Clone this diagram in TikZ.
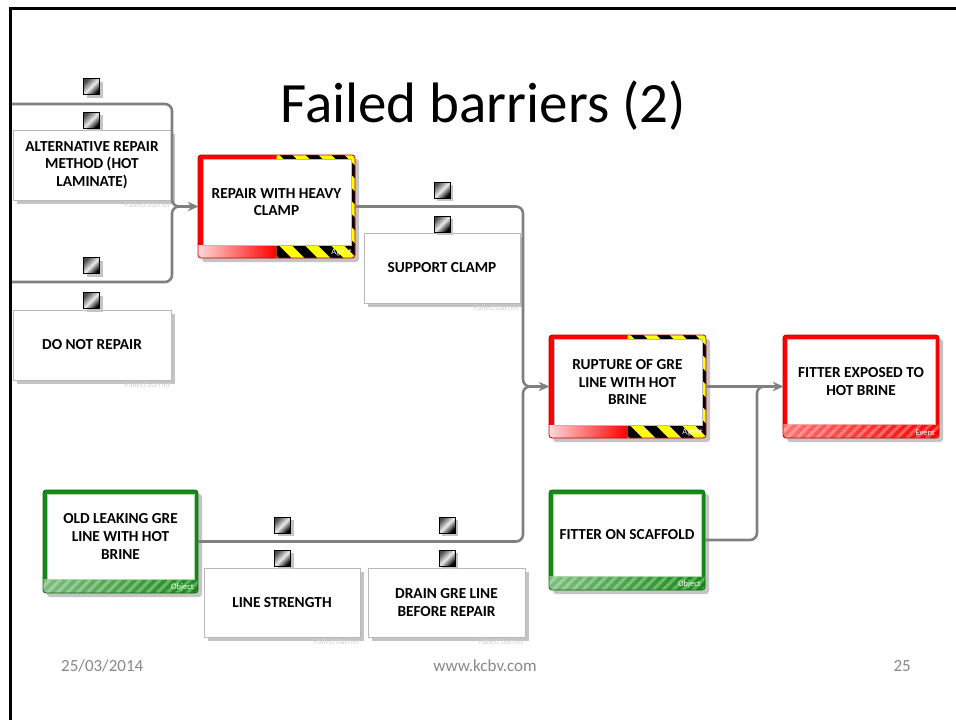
\documentclass[tikz,border=0pt]{standalone}
\usepackage{fontspec}
\setmainfont{Carlito}
\usetikzlibrary{arrows.meta,calc,shadows}
\definecolor{conn}{RGB}{128,128,128}
\definecolor{shad}{RGB}{196,196,196}
\definecolor{bbord}{RGB}{185,185,185}
\definecolor{hred}{RGB}{255,0,0}
\definecolor{dred}{RGB}{190,0,0}
\definecolor{hgreen}{RGB}{22,138,22}
\definecolor{dgreen}{RGB}{8,105,8}
\definecolor{hyel}{RGB}{255,255,0}
\definecolor{foot}{RGB}{137,137,137}
\definecolor{fbtext}{RGB}{212,212,212}
\tikzset{
  connector/.style={draw=conn, line width=2.6, rounded corners=7},
  arrowed/.style={-{Stealth[length=10,width=9,inset=3.5]}},
  boxtext/.style={font=\fontsize{15.3}{17.8}\selectfont\bfseries, align=center, inner sep=0, text=black},
  boxshape/.style={inner sep=0, outer sep=0, draw=none},
  tinylabel/.style={font=\fontsize{8.5}{9}\selectfont, inner sep=0},
  barsq/.style={minimum size=16, inner sep=0, draw=black, line width=0.8,
     top color=black!70, bottom color=black, middle color=white!92!black, shading angle=45,
     drop shadow={shadow xshift=3pt, shadow yshift=-3pt, fill=shad, opacity=1}},
  foottext/.style={font=\fontsize{17}{20}\selectfont, text=foot, inner sep=0},
}
% barrier box: name, x1, y1, x2, y2, text
\newcommand\barrierbox[6]{%
  \fill[shad] (#2+4,#3+4) rectangle (#4+4,#5+4);
  \draw[bbord, fill=white, line width=0.8] (#2,#3) rectangle (#4,#5);
  \node[boxshape, minimum width={(#4-#2)*1pt}, minimum height={(#5-#3)*1pt}] (#1) at ({(#2+#4)/2},{(#3+#5)/2}) {};
  \node[boxtext] (#1-t) at ({(#2+#4)/2},{(#3+#5)/2}) {#6};
  \node[tinylabel, text=fbtext, anchor=north east] (#1-l) at (#4,#5+1) {Failed barrier};
}
% agent box
\newcommand\agentbox[6]{%
  \fill[shad, rounded corners=3] (#2+4,#3+4) rectangle (#4+4,#5+4);
  \begin{scope}
    \clip[rounded corners=3] (#2,#3) rectangle (#4,#5);
    \fill[hred] (#2,#3) rectangle (#4,#5);
    \shade[left color=hred!15, right color=hred] (#2,#5-13) rectangle ({(#2+#4)/2},#5);
    \begin{scope}
      \clip ({(#2+#4)/2},#3) rectangle (#4,#3+4)
            (#4-4,#3) rectangle (#4,#5)
            ({(#2+#4)/2},#5-13) rectangle (#4,#5);
      \fill[hyel] (#2,#3) rectangle (#4,#5);
      \foreach \k in {0,26,...,312}
        \draw[black, line width=9] (#2-130+\k,#3-10) -- ++(140,140);
    \end{scope}
  \end{scope}
  \draw[dred, rounded corners=3, line width=0.8] (#2,#3) rectangle (#4,#5);
  \draw[bbord, fill=white, line width=0.6] (#2+5,#3+4) rectangle (#4-4,#5-13);
  \node[boxshape, minimum width={(#4-#2)*1pt}, minimum height={(#5-#3)*1pt}] (#1) at ({(#2+#4)/2},{(#3+#5)/2}) {};
  \node[boxtext] (#1-t) at ({(#2+#4)/2},{(#3+#5-9)/2}) {#6};
  \node[tinylabel, text=white, anchor=south east] (#1-l) at (#4-3,#5-2) {Agent};
}
% striped box: name, x1, y1, x2, y2, text, main colour, dark colour, label
\newcommand\stripebox[9]{%
  \fill[shad, rounded corners=3] (#2+4,#3+4) rectangle (#4+4,#5+4);
  \begin{scope}
    \clip[rounded corners=3] (#2,#3) rectangle (#4,#5);
    \fill[#7] (#2,#3) rectangle (#4,#5);
    \begin{scope}
      \clip (#2,#5-14) rectangle (#4,#5);
      \shade[left color=#7!55, right color=#7] (#2,#5-14) rectangle (#4,#5);
      \foreach \k in {0,10,...,190}
        \draw[white, opacity=0.3, line width=3] (#2+\k,#5-16) -- ++(-18,18);
    \end{scope}
  \end{scope}
  \draw[#8, rounded corners=3, line width=0.8] (#2,#3) rectangle (#4,#5);
  \draw[#7!35, fill=white, line width=0.8] (#2+4,#3+4) rectangle (#4-4,#5-14);
  \node[boxshape, minimum width={(#4-#2)*1pt}, minimum height={(#5-#3)*1pt}] (#1) at ({(#2+#4)/2},{(#3+#5)/2}) {};
  \node[boxtext] (#1-t) at ({(#2+#4)/2},{(#3+#5-10)/2}) {#6};
  \node[tinylabel, text=white, anchor=south east] (#1-l) at (#4-4,#5-2) {#9};
}
\begin{document}
\begin{tikzpicture}[x=1pt,y=-1pt]
\useasboundingbox (0,0) rectangle (956,720);
\fill[white] (0,0) rectangle (956,720);

\node[font=\fontsize{57}{62}\selectfont, anchor=base, inner sep=0] (title) at (483,122) {Failed barriers (2)};

% barriers
\barrierbox{alt}{13}{130}{171}{200}{ALTERNATIVE REPAIR\\METHOD (HOT\\LAMINATE)}
\barrierbox{donot}{13}{310}{171}{380}{DO NOT REPAIR}
\barrierbox{support}{364}{233}{520}{303}{SUPPORT CLAMP}
\barrierbox{linestr}{204}{568}{360}{637}{LINE STRENGTH}
\barrierbox{drain}{368}{568}{525}{637}{DRAIN GRE LINE\\BEFORE REPAIR}

% agents
\agentbox{repair}{198}{155}{355}{258}{REPAIR WITH HEAVY\\CLAMP}
\agentbox{rupture}{549}{335}{706}{438}{RUPTURE OF GRE\\LINE WITH HOT\\BRINE}

% event and objects
\stripebox{fitexp}{783}{335}{939}{438}{FITTER EXPOSED TO\\HOT BRINE}{hred}{dred}{Event}
\stripebox{oldleak}{43}{490}{198}{593}{OLD LEAKING GRE\\LINE WITH HOT\\BRINE}{hgreen}{dgreen}{Object}
\stripebox{fitscaf}{549}{490}{705}{590}{FITTER ON SCAFFOLD}{hgreen}{dgreen}{Object}

% barrier squares
\node[barsq] (sq1) at (91.5,86.5) {};
\node[barsq] (sq2) at (91.5,120) {};
\node[barsq] (sq3) at (91.5,265.5) {};
\node[barsq] (sq4) at (91.5,300.5) {};
\node[barsq] (sq5) at (442,190) {};
\node[barsq] (sq6) at (442,224) {};
\node[barsq] (sq7) at (282.5,525) {};
\node[barsq] (sq8) at (282.5,558) {};
\node[barsq] (sq9) at (447,525) {};
\node[barsq] (sq10) at (447,558) {};

% connectors
\coordinate (in1) at (10,104);
\coordinate (in2) at (10,282);
\coordinate (j1) at ($(repair.west)+(-26,0)$);
\coordinate (j2) at ($(rupture.west)+(-26,0)$);
\coordinate (j3) at ($(fitexp.west)+(-26,0)$);
\draw[connector, arrowed] (in1) -| (j1) -- (repair.west);
\draw[connector, arrowed] (in2) -| (j1) -- (repair.west);
\draw[connector, arrowed] (repair.east) -| (j2) -- (rupture.west);
\draw[connector, arrowed] (oldleak.east) -| (j2) -- (rupture.west);
\draw[connector, arrowed] (rupture.east) -- (fitexp.west);
\draw[connector, arrowed] (fitscaf.east) -| (j3) -- (fitexp.west);

% slide frame
\draw[black, line width=3] (10,720) -- (10,8) -- (956,8);

% footer
\node[foottext, anchor=base west] (date) at (61,671) {25/03/2014};
\node[foottext, anchor=base] (url) at (485,671) {www.kcbv.com};
\node[foottext, anchor=base east] (page) at (911,671) {25};
\end{tikzpicture}
\end{document}
